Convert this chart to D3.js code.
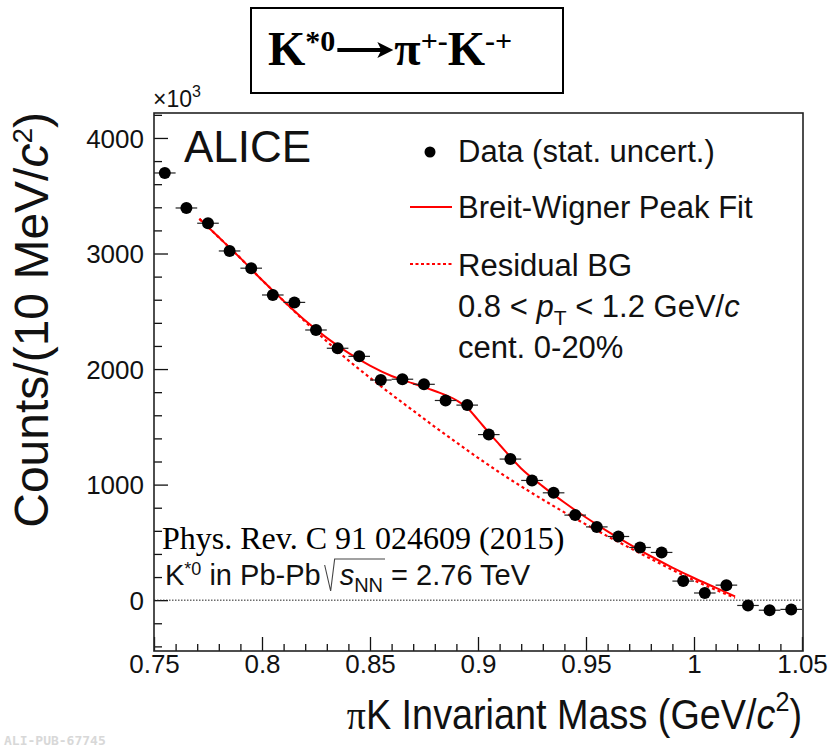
<!DOCTYPE html>
<html>
<head>
<meta charset="utf-8">
<script src="https://cdn.jsdelivr.net/npm/d3@7"></script>
<style>
  html, body { margin: 0; padding: 0; background: #fff; }
  svg { display: block; }
</style>
</head>
<body>
<svg id="chart" width="833" height="748"></svg>
<script>
// ---------------- DATA ----------------
const massBins = [0.755, 0.765, 0.775, 0.785, 0.795, 0.805, 0.815, 0.825, 0.835, 0.845,
                  0.855, 0.865, 0.875, 0.885, 0.895, 0.905, 0.915, 0.925, 0.935, 0.945,
                  0.955, 0.965, 0.975, 0.985, 0.995, 1.005, 1.015, 1.025, 1.035, 1.045];
const counts = [3697, 3394, 3262, 3022, 2873, 2641, 2577, 2338, 2180, 2110,
                1905, 1912, 1868, 1728, 1688, 1433, 1221, 1036, 929, 736,
                634, 551, 456, 413, 165, 62, 130, -46, -87, -80];
const binHalfWidth = 0.005;

const fitMass = [0.771, 0.78, 0.79, 0.80, 0.81, 0.82, 0.83, 0.84, 0.85, 0.86, 0.87, 0.88,
                 0.89, 0.895, 0.90, 0.905, 0.91, 0.92, 0.93, 0.94, 0.95, 0.96, 0.97, 0.98,
                 0.99, 1.00, 1.01, 1.019];
const fitTotal = [3300, 3140, 2960, 2770, 2590, 2420, 2270, 2140, 2030, 1940, 1875, 1810,
                  1730, 1665, 1560, 1450, 1345, 1140, 985, 845, 715, 595, 485, 380,
                  282, 192, 108, 32];
const fitBG = [3300, 3140, 2960, 2770, 2590, 2410, 2240, 2075, 1925, 1780, 1640, 1500,
               1365, 1298, 1232, 1168, 1105, 985, 870, 760, 655, 553, 455, 358,
               262, 172, 90, 20];

const xMajorTicks = [0.75, 0.8, 0.85, 0.9, 0.95, 1.0, 1.05];
const xTickLabels = ["0.75", "0.8", "0.85", "0.9", "0.95", "1", "1.05"];
const yMajorTicks = [0, 1000, 2000, 3000, 4000];
const yTickLabels = ["0", "1000", "2000", "3000", "4000"];

// ---------------- LAYOUT ----------------
const svg = d3.select("#chart");
const L = 154, R = 802, T = 113, B = 651;
const SANS = "'Liberation Sans', Arial, Helvetica, sans-serif";
const SERIF = "'Liberation Serif', 'Times New Roman', serif";
const RED = "#ff0000";
const INK = "#111";

const x = d3.scaleLinear().domain([0.75, 1.05]).range([L, R]);
const y = d3.scaleLinear().domain([-440, 4216]).range([B, T]);

// minor ticks
const xMinor = d3.range(0, 31).map(i => +(0.75 + i * 0.01).toFixed(3))
  .filter(v => !xMajorTicks.some(m => Math.abs(m - v) < 1e-6));
const yMinor = d3.range(-400, 4201, 200).filter(v => v % 1000 !== 0);

// X axis (ticks inside)
const gx = svg.append("g").attr("transform", `translate(0,${B})`);
gx.call(d3.axisBottom(x).tickValues(xMajorTicks).tickSize(-14).tickPadding(3)
  .tickFormat((d, i) => xTickLabels[i]));
const gxm = svg.append("g").attr("transform", `translate(0,${B})`);
gxm.call(d3.axisBottom(x).tickValues(xMinor).tickSize(-7).tickFormat(""));

// Y axis (ticks inside)
const gy = svg.append("g").attr("transform", `translate(${L},0)`);
gy.call(d3.axisLeft(y).tickValues(yMajorTicks).tickSize(-14).tickPadding(10)
  .tickFormat((d, i) => yTickLabels[i]));
const gym = svg.append("g").attr("transform", `translate(${L},0)`);
gym.call(d3.axisLeft(y).tickValues(yMinor).tickSize(-8).tickFormat(""));

[gx, gxm, gy, gym].forEach(g => {
  g.select(".domain").remove();
  g.selectAll(".tick line").attr("stroke", INK).attr("stroke-width", 1.3);
  g.selectAll(".tick text").attr("font-family", SANS).attr("font-size", 26).attr("fill", INK);
});
gx.selectAll(".tick text").attr("dy", "0.74em");
gy.selectAll(".tick text").attr("dy", "0.36em");

// frame
svg.append("rect").attr("x", L).attr("y", T).attr("width", R - L + 1).attr("height", B - T)
  .attr("fill", "none").attr("stroke", "#222").attr("stroke-width", 1.6);

// zero line
svg.append("line").attr("x1", L).attr("x2", R).attr("y1", y(0)).attr("y2", y(0))
  .attr("stroke", "#222").attr("stroke-width", 1).attr("stroke-dasharray", "1.5,1.5");

// fit curves
const lineGen = (vals) => d3.line().x((d, i) => x(fitMass[i])).y(d => y(d)).curve(d3.curveMonotoneX)(vals);
svg.append("path").attr("d", lineGen(fitBG)).attr("fill", "none").attr("stroke", RED)
  .attr("stroke-width", 2.2).attr("stroke-dasharray", "3,3");
svg.append("path").attr("d", lineGen(fitTotal)).attr("fill", "none").attr("stroke", RED)
  .attr("stroke-width", 2);

// data points
const pts = svg.append("g");
pts.selectAll("line.eb").data(massBins).join("line")
  .attr("x1", d => x(d - binHalfWidth)).attr("x2", d => x(d + binHalfWidth))
  .attr("y1", (d, i) => y(counts[i])).attr("y2", (d, i) => y(counts[i]))
  .attr("stroke", "#222").attr("stroke-width", 1.2);
pts.selectAll("circle").data(massBins).join("circle")
  .attr("cx", d => x(d)).attr("cy", (d, i) => y(counts[i])).attr("r", 6).attr("fill", "#000");

// ×10^3
const e3 = svg.append("text").attr("x", 153).attr("y", 107).attr("font-family", SANS)
  .attr("font-size", 23).attr("fill", INK);
e3.append("tspan").text("×10");
e3.append("tspan").attr("font-size", 16).attr("dy", -10).text("3");

// ALICE
svg.append("text").attr("x", 184).attr("y", 162).attr("font-family", SANS)
  .attr("font-size", 44).attr("fill", INK).text("ALICE");

// Legend
const LF = 31;
svg.append("circle").attr("cx", 430).attr("cy", 152).attr("r", 5.5).attr("fill", "#000");
svg.append("line").attr("x1", 410).attr("x2", 452).attr("y1", 207).attr("y2", 207)
  .attr("stroke", RED).attr("stroke-width", 2);
svg.append("line").attr("x1", 410).attr("x2", 452).attr("y1", 264).attr("y2", 264)
  .attr("stroke", RED).attr("stroke-width", 2).attr("stroke-dasharray", "3,2.5");
const legText = (yy, txt) => svg.append("text").attr("x", 458).attr("y", yy)
  .attr("font-family", SANS).attr("font-size", LF).attr("fill", INK).text(txt);
legText(162, "Data (stat. uncert.)");
legText(218, "Breit-Wigner Peak Fit");
legText(276, "Residual BG");
const pt = svg.append("text").attr("x", 458).attr("y", 317).attr("font-family", SANS)
  .attr("font-size", LF).attr("fill", INK);
pt.append("tspan").text("0.8 < ");
pt.append("tspan").attr("font-style", "italic").text("p");
pt.append("tspan").attr("font-size", 21).attr("dy", 8).text("T");
pt.append("tspan").attr("dy", -8).text(" < 1.2 GeV/");
pt.append("tspan").attr("font-style", "italic").text("c");
legText(358, "cent. 0-20%");

// Title box
svg.append("rect").attr("x", 251).attr("y", 8).attr("width", 312).attr("height", 85)
  .attr("fill", "#fff").attr("stroke", "#000").attr("stroke-width", 2);
const TY = 65;
const t1 = svg.append("text").attr("x", 268).attr("y", TY).attr("font-family", SERIF)
  .attr("font-weight", "bold").attr("font-size", 48).attr("fill", "#000");
t1.append("tspan").text("K");
t1.append("tspan").attr("font-size", 30).attr("dy", -14).text("*0");
const t1w = t1.node().getComputedTextLength();
const ax0 = 268 + t1w + 2, ax1 = ax0 + 56, ay = TY - 15;
svg.append("line").attr("x1", ax0).attr("x2", ax1 - 10).attr("y1", ay).attr("y2", ay)
  .attr("stroke", "#000").attr("stroke-width", 4);
svg.append("path").attr("d", `M${ax1},${ay} L${ax1 - 16},${ay - 8} L${ax1 - 12},${ay} L${ax1 - 16},${ay + 8} Z`)
  .attr("fill", "#000");
const t2 = svg.append("text").attr("x", ax1 + 1).attr("y", TY).attr("font-family", SERIF)
  .attr("font-weight", "bold").attr("font-size", 48).attr("fill", "#000");
t2.append("tspan").text("π");
t2.append("tspan").attr("font-size", 30).attr("dy", -14).text("+-");
t2.append("tspan").attr("dy", 14).text("K");
t2.append("tspan").attr("font-size", 30).attr("dy", -14).text("-+");

// Phys. Rev. reference
svg.append("text").attr("x", 162).attr("y", 549).attr("font-family", SERIF)
  .attr("font-size", 32).attr("fill", "#000").text("Phys. Rev. C 91 024609 (2015)");

// K*0 in Pb-Pb sqrt(sNN) = 2.76 TeV
const sysY = 585, SF = 29;
const s1 = svg.append("text").attr("x", 165).attr("y", sysY).attr("font-family", SANS)
  .attr("font-size", SF).attr("fill", INK);
s1.append("tspan").text("K");
s1.append("tspan").attr("font-size", 18).attr("dy", -10).text("*0");
s1.append("tspan").attr("dy", 10).text(" in Pb-Pb ");
const w1 = s1.node().getComputedTextLength();
const radX = 165 + w1 + 3;
const s2 = svg.append("text").attr("x", radX + 16).attr("y", sysY).attr("font-family", SANS)
  .attr("font-size", SF).attr("fill", INK);
s2.append("tspan").attr("font-style", "italic").text("s");
s2.append("tspan").attr("font-size", 20).attr("dy", 7).text("NN");
const wS = s2.node().getComputedTextLength();
s2.append("tspan").attr("dy", -7).attr("font-size", SF).text(" = 2.76 TeV");
svg.append("path")
  .attr("d", `M${radX + 1},${sysY - 20} L${radX + 7},${sysY + 6} L${radX + 11},${sysY - 26} L${radX + 16 + wS + 2},${sysY - 26}`)
  .attr("fill", "none").attr("stroke", "#444").attr("stroke-width", 1.1);

// Axis titles
const xt = svg.append("text").attr("transform", "translate(802,729) scale(0.9,1)")
  .attr("text-anchor", "end")
  .attr("font-family", SANS).attr("font-size", 42).attr("fill", INK);
xt.append("tspan").attr("font-family", SERIF).text("π");
xt.append("tspan").text("K Invariant Mass (GeV/");
xt.append("tspan").attr("font-style", "italic").text("c");
xt.append("tspan").attr("font-size", 28).attr("dy", -18).text("2");
xt.append("tspan").attr("dy", 18).text(")");

const yt = svg.append("text").attr("transform", "translate(48,112) rotate(-90)")
  .attr("text-anchor", "end").attr("font-family", SANS).attr("font-size", 48).attr("fill", INK);
yt.append("tspan").text("Counts/(10 MeV/");
yt.append("tspan").attr("font-style", "italic").text("c");
yt.append("tspan").attr("font-size", 28).attr("dy", -16).text("2");
yt.append("tspan").attr("dy", 16).text(")");

// watermark
svg.append("text").attr("x", 4).attr("y", 745).attr("font-family", "'DejaVu Sans Mono', monospace")
  .attr("font-size", 13).attr("font-weight", "bold").attr("fill", "#d8d8d8").text("ALI-PUB-67745");
</script>
</body>
</html>
